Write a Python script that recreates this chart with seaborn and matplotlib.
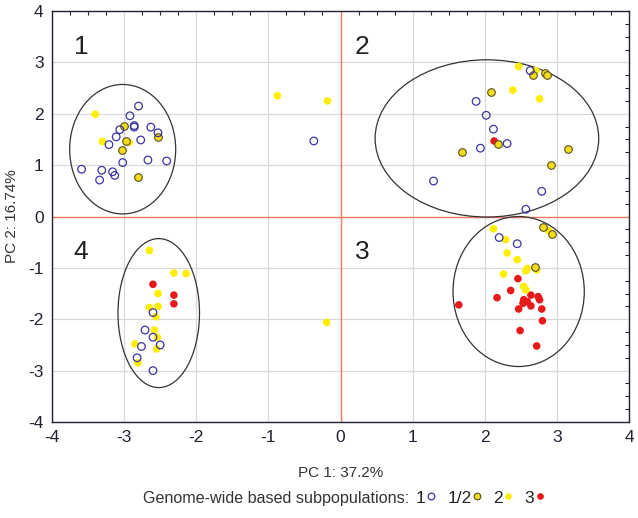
import matplotlib
matplotlib.use("Agg")
import matplotlib.pyplot as plt
import seaborn as sns
import pandas as pd
from matplotlib.patches import Ellipse
from matplotlib.lines import Line2D
from matplotlib.ticker import MultipleLocator, AutoMinorLocator

# ---- data ----
g1_x = [-2.80, -2.92, -2.86, -2.86, -3.06, -3.11, -3.21, -2.77, -2.63, -2.53, -3.02, -2.67, -2.41,
        -3.59, -3.31, -3.16, -3.13, -3.34,
        -2.60, -2.71, -2.60, -2.50, -2.76, -2.82, -2.60,
        -0.37,
        2.63, 1.88, 2.02, 2.12, 2.31, 1.94, 1.29, 2.79, 2.57,
        2.20, 2.45]
g1_y = [2.15, 1.96, 1.77, 1.74, 1.69, 1.55, 1.40, 1.49, 1.74, 1.63, 1.05, 1.10, 1.08,
        0.92, 0.90, 0.87, 0.80, 0.71,
        -1.87, -2.21, -2.35, -2.50, -2.53, -2.75, -3.00,
        1.47,
        2.84, 2.24, 1.97, 1.70, 1.42, 1.33, 0.69, 0.49, 0.14,
        -0.41, -0.53]

g12_x = [-2.98, -3.00, -3.03, -2.53, -2.81,
         2.67, 2.84, 2.86, 2.09, 2.19, 1.69, 3.16, 2.92,
         2.81, 2.93, 2.69]
g12_y = [1.46, 1.77, 1.30, 1.55, 0.76,
         2.76, 2.79, 2.76, 2.42, 1.41, 1.26, 1.31, 1.01,
         -0.20, -0.34, -0.99]

g2_x = [-3.40, -3.30, -2.93,
        -2.65, -2.31, -2.14, -2.53, -2.65, -2.53, -2.56, -2.58, -2.54, -2.85, -2.55, -2.81,
        -0.875, -0.18, -0.19,
        2.47, 2.71, 2.39, 2.76,
        2.12, 2.29, 2.89, 2.31, 2.45, 2.59, 2.57, 2.72, 2.26, 2.54, 2.57]
g2_y = [1.99, 1.46, 1.44,
        -0.66, -1.10, -1.11, -1.50, -1.77, -1.75, -1.95, -2.21, -2.35, -2.48, -2.58, -2.85,
        2.35, 2.25, -2.06,
        2.92, 2.84, 2.46, 2.29,
        -0.24, -0.45, -0.28, -0.71, -0.84, -1.01, -1.06, -1.04, -1.12, -1.36, -1.43]

g3_x = [-2.60, -2.31, -2.31,
        2.13,
        2.46, 2.36, 2.17, 2.64, 2.74, 2.76, 2.54, 2.59, 2.53, 2.64, 1.64, 2.47, 2.79, 2.80, 2.49, 2.72]
g3_y = [-1.32, -1.53, -1.70,
        1.47,
        -1.21, -1.44, -1.58, -1.53, -1.56, -1.62, -1.62, -1.66, -1.69, -1.74, -1.72, -1.80, -1.80,
        -2.03, -2.22, -2.52]

# ellipses: center x, center y, width, height
ell_cx = [-3.02, 2.03, 2.47, -2.52]
ell_cy = [1.31, 1.52, -1.46, -1.88]
ell_w = [1.47, 3.10, 1.82, 1.13]
ell_h = [2.52, 3.06, 2.92, 2.90]

quad_labels = ["1", "2", "3", "4"]
quad_x = [-3.7, 0.2, 0.2, -3.7]
quad_y = [3.3, 3.3, -0.7, -0.7]

legend_labels = ["1", "1/2", "2", "3"]

# ---- plot ----
sns.set_style("white")
plt.rcParams["font.family"] = ["Liberation Sans", "DejaVu Sans"]
plt.rcParams["axes.unicode_minus"] = False

fig = plt.figure(figsize=(6.38, 5.18), dpi=100)
ax = fig.add_axes([52 / 638, 1 - 422 / 518, (629 - 52) / 638, (422 - 11) / 518])

ax.set_xlim(-4, 4)
ax.set_ylim(-4, 4)
ax.grid(True, color="#d9d9d9", lw=0.9, zorder=0)
ax.set_axisbelow(True)
ax.axvline(0, color="#f07a5e", lw=1.0, zorder=1)
ax.axhline(0, color="#f07a5e", lw=1.0, zorder=1)

for cx, cy, w, h in zip(ell_cx, ell_cy, ell_w, ell_h):
    ax.add_patch(Ellipse((cx, cy), w, h, fill=False, edgecolor="#333333", lw=0.9, zorder=2))

blue = "#3a35a0"
yellow = "#ffee00"
red = "#e8191b"
olive_edge = "#5a5020"

d1 = pd.DataFrame({"x": g1_x, "y": g1_y})
d12 = pd.DataFrame({"x": g12_x, "y": g12_y})
d2 = pd.DataFrame({"x": g2_x, "y": g2_y})
d3 = pd.DataFrame({"x": g3_x, "y": g3_y})

ms = 30
sns.scatterplot(data=d3, x="x", y="y", ax=ax, s=ms, color=red, edgecolor="none", zorder=3, legend=False)
sns.scatterplot(data=d2, x="x", y="y", ax=ax, s=ms, color=yellow, edgecolor="none", zorder=4, legend=False)
sns.scatterplot(data=d12, x="x", y="y", ax=ax, s=ms, color="#f2dc1a", edgecolor=olive_edge,
                linewidth=0.8, zorder=5, legend=False)
sns.scatterplot(data=d1, x="x", y="y", ax=ax, s=ms, facecolor="none", edgecolor=blue,
                linewidth=0.9, zorder=6, legend=False)

for t, x, y in zip(quad_labels, quad_x, quad_y):
    ax.text(x, y, t, fontsize=19, color="#222222", ha="left", va="center", zorder=7)

ax.xaxis.set_major_locator(MultipleLocator(1))
ax.yaxis.set_major_locator(MultipleLocator(1))
ax.xaxis.set_minor_locator(AutoMinorLocator(4))
ax.yaxis.set_minor_locator(AutoMinorLocator(4))
ax.tick_params(which="both", direction="in", top=True, right=True, colors="#222233")
ax.tick_params(which="major", length=0, labelsize=12.5, pad=6)
ax.tick_params(which="minor", length=3, width=0.8)
for sp in ax.spines.values():
    sp.set_color("#222233")
    sp.set_linewidth(1.0)

ax.set_xlabel("PC 1: 37.2%", fontsize=11, color="#333333")
ax.set_ylabel("PC 2: 16.74%", fontsize=11, color="#333333")
ax.xaxis.set_label_coords((341 - 52) / (629 - 52), -(466 - 422) / (422 - 11))
ax.yaxis.set_label_coords(-(52 - 19) / (629 - 52), (422 - 216) / (422 - 11))

fig.text(143 / 638, 1 - 498 / 518, "Genome-wide based subpopulations:", fontsize=11.6,
         color="#333333", ha="left", va="center")
handles = [
    Line2D([], [], marker="o", ls="none", markersize=4.8, markerfacecolor="white",
           markeredgecolor=blue, markeredgewidth=0.9),
    Line2D([], [], marker="o", ls="none", markersize=4.8, markerfacecolor="#f2dc1a",
           markeredgecolor=olive_edge, markeredgewidth=0.8),
    Line2D([], [], marker="o", ls="none", markersize=4.8, markerfacecolor=yellow, markeredgecolor="none"),
    Line2D([], [], marker="o", ls="none", markersize=4.8, markerfacecolor=red, markeredgecolor="none"),
]
fig.legend(handles, legend_labels, loc="center left", bbox_to_anchor=(416 / 638, 1 - 498 / 518),
           ncol=4, frameon=False, markerfirst=False, fontsize=12.5, handlelength=0.4,
           handletextpad=0.1, columnspacing=0.75, borderpad=0, borderaxespad=0,
           labelcolor="#222222")

fig.savefig("out.png", dpi=100)
